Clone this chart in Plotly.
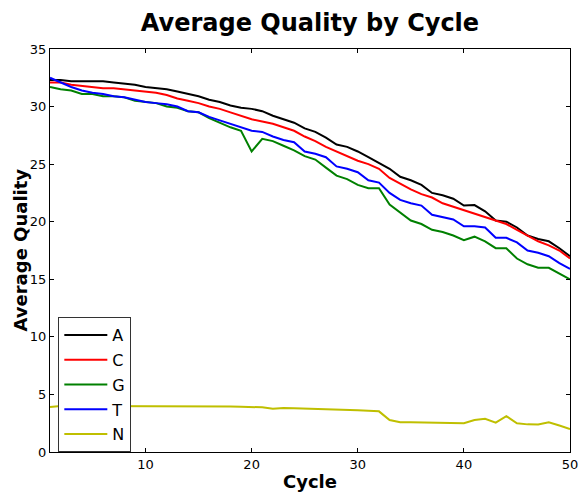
import plotly.graph_objects as go

cycles = list(range(1, 51))

qual_A = [32.3, 32.3, 32.2, 32.2, 32.2, 32.2, 32.1, 32.0, 31.9, 31.7,
          31.6, 31.5, 31.3, 31.1, 30.9, 30.6, 30.4, 30.1, 29.9, 29.8,
          29.6, 29.2, 28.9, 28.6, 28.1, 27.8, 27.3, 26.7, 26.5, 26.1,
          25.6, 25.1, 24.6, 23.9, 23.6, 23.2, 22.5, 22.3, 22.0, 21.4,
          21.45, 20.9, 20.1, 20.0, 19.5, 18.8, 18.5, 18.3, 17.7, 17.0]
qual_C = [32.1, 32.1, 31.9, 31.8, 31.7, 31.6, 31.6, 31.5, 31.4, 31.3,
          31.2, 31.0, 30.7, 30.5, 30.3, 30.0, 29.8, 29.5, 29.2, 28.9,
          28.7, 28.5, 28.2, 27.9, 27.4, 27.0, 26.5, 26.1, 25.7, 25.3,
          25.0, 24.6, 23.8, 23.3, 22.8, 22.4, 22.1, 21.6, 21.3, 21.0,
          20.7, 20.4, 20.1, 19.8, 19.3, 18.8, 18.3, 17.95, 17.5, 16.8]
qual_G = [31.7, 31.5, 31.4, 31.1, 31.1, 30.9, 30.9, 30.8, 30.5, 30.4,
          30.3, 30.0, 29.9, 29.6, 29.5, 29.0, 28.6, 28.2, 27.9, 26.1,
          27.2, 27.0, 26.6, 26.2, 25.7, 25.4, 24.7, 24.0, 23.7, 23.2,
          22.9, 22.9, 21.5, 20.8, 20.1, 19.8, 19.3, 19.1, 18.8, 18.4,
          18.7, 18.3, 17.7, 17.7, 16.8, 16.3, 16.0, 16.0, 15.5, 15.0]
qual_T = [32.5, 32.1, 31.7, 31.4, 31.2, 31.1, 30.9, 30.8, 30.6, 30.4,
          30.3, 30.2, 30.0, 29.6, 29.5, 29.1, 28.8, 28.5, 28.2, 27.9,
          27.8, 27.4, 27.1, 26.9, 26.1, 25.9, 25.6, 24.8, 24.6, 24.3,
          23.6, 23.4, 22.5, 21.9, 21.6, 21.4, 20.6, 20.4, 20.2, 19.6,
          19.6, 19.5, 18.6, 18.6, 18.2, 17.5, 17.3, 17.0, 16.4, 15.9]
qual_N = [3.9, 4.0, 4.0, 4.0, 4.0, 4.0, 4.0, 4.0, 4.0, 4.0,
          4.0, 4.0, 3.99, 3.99, 3.98, 3.97, 3.96, 3.95, 3.93, 3.9,
          3.88, 3.75, 3.82, 3.8, 3.78, 3.72, 3.7, 3.68, 3.65, 3.62,
          3.58, 3.53, 2.78, 2.58, 2.58, 2.56, 2.6, 2.56, 2.56, 2.5,
          2.78, 2.88, 2.55, 3.12, 2.5, 2.4, 2.38, 2.58, 2.3, 2.0]

series_names = ["A", "C", "G", "T", "N"]
series_values = [qual_A, qual_C, qual_G, qual_T, qual_N]
series_colors = ["#000000", "#ff0000", "#008000", "#0000ff", "#bfbf00"]

x_ticks = [10, 20, 30, 40, 50]
y_ticks = [0, 5, 10, 15, 20, 25, 30, 35]

FONT = "DejaVu Sans"

fig = go.Figure()
for name, vals, col in zip(series_names, series_values, series_colors):
    fig.add_trace(go.Scatter(x=cycles, y=vals, mode="lines", name=name,
                             legendgroup=name,
                             line=dict(color=col, width=2)))

axis_common = dict(showline=True, linecolor="#000000", linewidth=1, mirror="ticks",
                   ticks="inside", ticklen=4, tickwidth=1, tickcolor="#000000",
                   showgrid=False, zeroline=False, automargin=False,
                   tickfont=dict(family=FONT, size=13, color="#000000"))

fig.update_layout(
    width=582, height=493,
    margin=dict(l=50, r=12, t=49, b=41),
    paper_bgcolor="white", plot_bgcolor="white",
    font=dict(family=FONT, color="#000000"),
    title=dict(text="<b>Average Quality by Cycle</b>", x=310 / 582, xanchor="center",
               y=1 - 23 / 493, yanchor="middle", yref="container",
               font=dict(family=FONT, size=24, color="#000000")),
    xaxis=dict(range=[1, 50], tickvals=x_ticks,
               title=dict(text="<b>Cycle</b>", font=dict(family=FONT, size=18), standoff=4),
               **axis_common),
    yaxis=dict(range=[0, 35], tickvals=y_ticks, **axis_common),
    legend=dict(x=0.016, y=0.335, xanchor="left", yanchor="top",
                bordercolor="#333333", borderwidth=1, bgcolor="white",
                font=dict(family=FONT, size=16, color="#000000"),
                itemwidth=43, tracegroupgap=1),
    showlegend=True,
    annotations=[dict(text="<b>Average Quality</b>", textangle=-90,
                      xref="paper", yref="paper", x=(20 - 50) / 520, y=0.5,
                      xanchor="center", yanchor="middle", showarrow=False,
                      font=dict(family=FONT, size=18, color="#000000"))],
)

fig.write_html("out.html")
